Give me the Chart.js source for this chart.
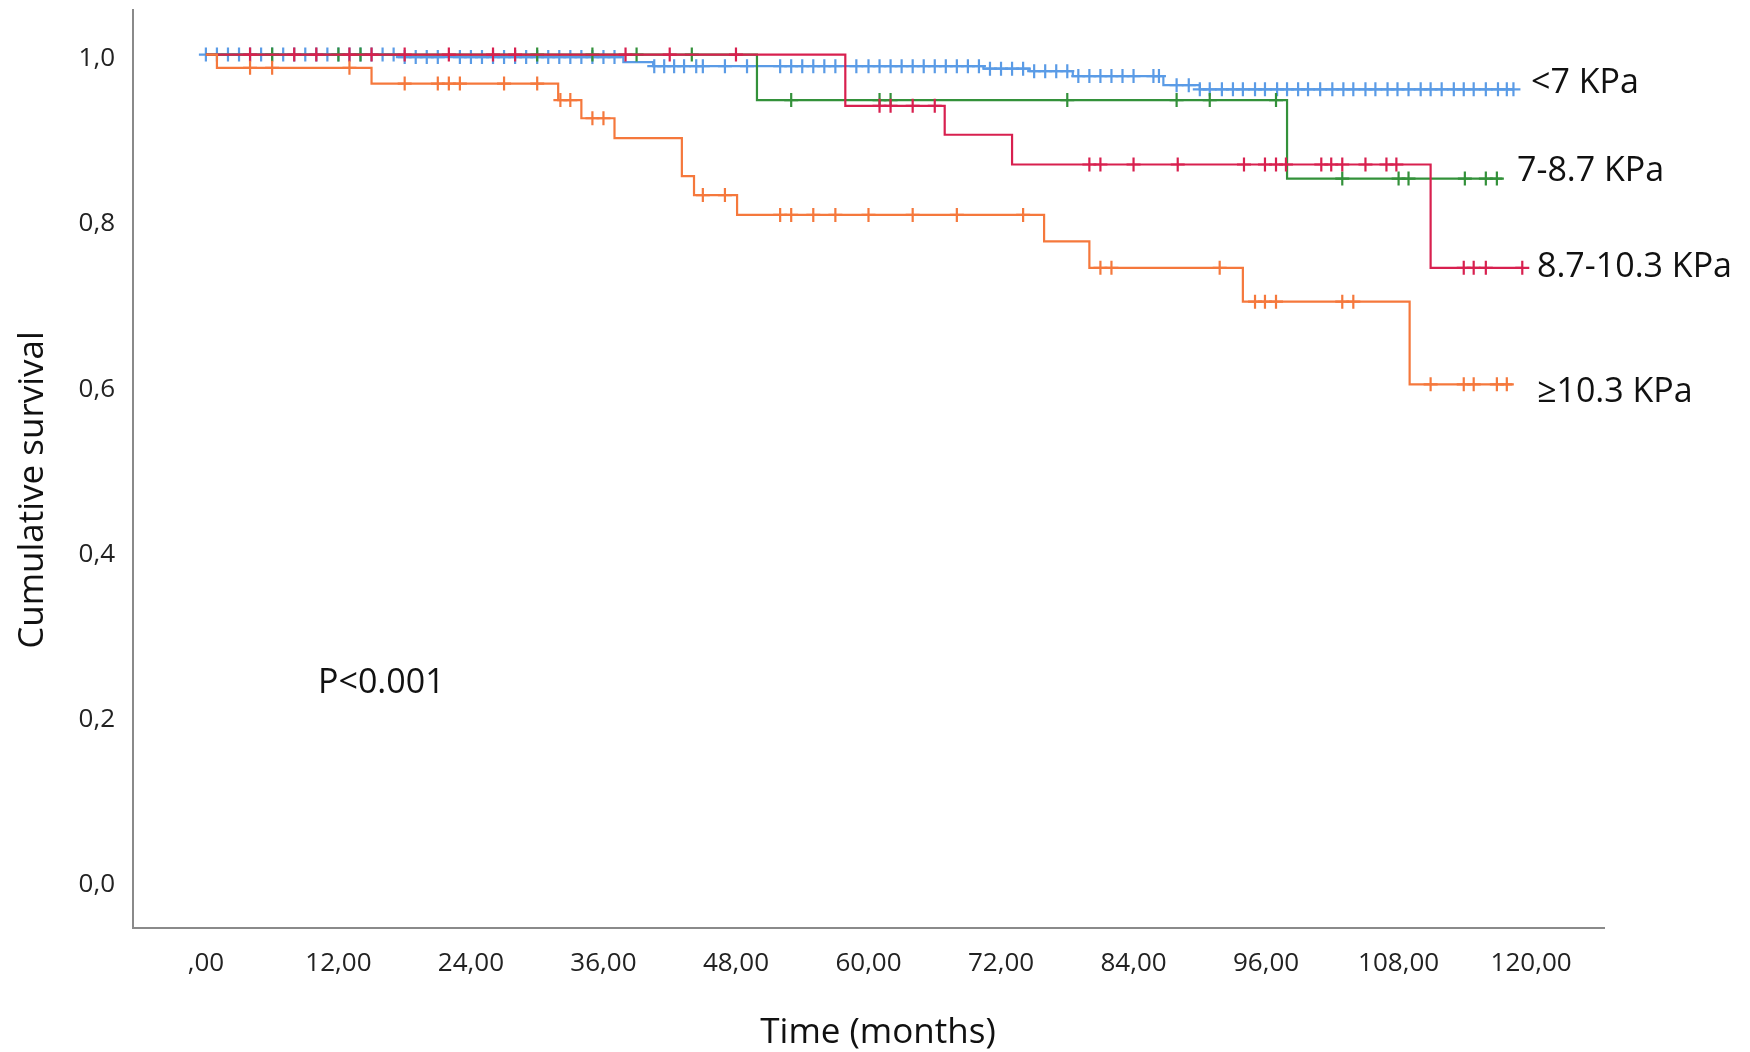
<!DOCTYPE html>
<html>
<head>
<meta charset="utf-8">
<script src="https://cdn.jsdelivr.net/npm/chart.js@4.4.1/dist/chart.umd.min.js"></script>
<style>
  html, body { margin: 0; padding: 0; background: #fff; }
  canvas { display: block; }
</style>
</head>
<body>
<canvas id="kmChart" width="1750" height="1052"></canvas>
<script>
// Kaplan-Meier curves by liver stiffness group
const groupNames = ['<7 KPa', '7-8.7 KPa', '8.7-10.3 KPa', '\u226510.3 KPa'];

const xTickValues = [0, 12, 24, 36, 48, 60, 72, 84, 96, 108, 120];
const xTickLabels = [',00', '12,00', '24,00', '36,00', '48,00', '60,00', '72,00', '84,00', '96,00', '108,00', '120,00'];
const yTickValues = [0, 0.2, 0.4, 0.6, 0.8, 1.0];
const yTickLabels = ['0,0', '0,2', '0,4', '0,6', '0,8', '1,0'];

// <7 KPa
const blueStepTimes = [0, 17.3, 37.8, 40.5, 70.4, 74.6, 78.5, 86.7, 90.0];
const blueStepValues = [1.0, 0.997, 0.991, 0.986, 0.983, 0.980, 0.974, 0.963, 0.958];
const blueEnd = 118.4;
const blueCensored = [0, 1, 2, 3, 4, 5, 6, 7, 8, 9, 10, 11, 12, 13, 14, 15, 16, 17, 18, 19, 20, 21, 23, 24, 25, 26,
  27, 28, 29, 30, 31, 32, 33, 34, 35, 36, 37, 40.6, 41.5, 42.4, 43.3, 44.4, 45, 47, 49, 52, 53, 54, 55, 56, 57,
  58.9, 60, 61, 62, 63, 64, 65, 66, 67, 68, 69, 70, 71, 72, 73, 74, 75, 76, 77, 78, 79, 80, 81, 82, 83, 84, 85.8,
  86.3, 87.9, 89, 90, 90.9, 92, 93, 93.9, 95, 95.9, 97, 97.9, 98.9, 99.8, 100.9, 102, 103, 103.9, 105, 105.9, 107,
  107.9, 108.9, 110, 110.9, 111.9, 113, 113.9, 114.8, 115.9, 117, 117.8, 118.4];

// 7-8.7 KPa
const greenStepTimes = [0, 49.9, 97.9];
const greenStepValues = [1.0, 0.945, 0.850];
const greenEnd = 117.4;
const greenCensored = [6, 12, 14, 30, 35, 39, 44, 53, 61, 62, 78, 87.9, 90.9, 96.9, 102.9, 108, 108.9, 114, 115.9, 116.9];

// 8.7-10.3 KPa
const redStepTimes = [0, 57.9, 66.9, 73.0, 110.9];
const redStepValues = [1.0, 0.938, 0.903, 0.867, 0.742];
const redEnd = 119.2;
const redCensored = [4, 8, 10, 13, 15, 18, 22, 26, 28, 38, 42, 48, 61, 62, 64, 66, 80, 81, 84, 88, 94, 95.9, 96.9,
  97.8, 101, 101.9, 102.9, 105, 106.9, 107.8, 113.9, 114.8, 115.9, 119.2];

// >=10.3 KPa
const orangeStepTimes = [0, 1.0, 15.0, 31.9, 34.0, 37.0, 43.1, 44.2, 48.1, 75.9, 80.0, 93.9, 109.0];
const orangeStepValues = [1.0, 0.984, 0.965, 0.945, 0.923, 0.899, 0.853, 0.830, 0.806, 0.774, 0.742, 0.701, 0.601];
const orangeEnd = 118.3;
const orangeCensored = [4, 6, 13, 18, 21, 22, 23, 27, 30, 32.1, 33, 35, 36, 45, 47, 52, 53, 55, 57, 60, 64, 68, 74,
  81, 82, 91.8, 95, 95.9, 96.9, 102.9, 103.9, 110.9, 113.9, 114.8, 116.9, 117.8];

const FONT = "'Open Sans', 'DejaVu Sans', sans-serif";

function stepLine(times, values, end) {
  const pts = times.map((t, i) => ({ x: t, y: values[i] }));
  pts.push({ x: end, y: values[values.length - 1] });
  return pts;
}

function censorMarks(times, values, censored) {
  return censored.map(t => {
    let v = values[0];
    for (let i = 0; i < times.length; i++) {
      if (times[i] <= t) v = values[i];
    }
    return { x: t, y: v };
  });
}

const curves = [
  { times: blueStepTimes, values: blueStepValues, end: blueEnd, cens: blueCensored, color: '#5a9be6', order: 4 },
  { times: greenStepTimes, values: greenStepValues, end: greenEnd, cens: greenCensored, color: '#33913a', order: 3 },
  { times: redStepTimes, values: redStepValues, end: redEnd, cens: redCensored, color: '#d8204f', order: 2 },
  { times: orangeStepTimes, values: orangeStepValues, end: orangeEnd, cens: orangeCensored, color: '#f5783c', order: 1 }
];

const datasets = [];
curves.forEach((c, i) => {
  datasets.push({
    label: groupNames[i],
    data: stepLine(c.times, c.values, c.end),
    showLine: true,
    stepped: 'before',
    borderColor: c.color,
    borderWidth: 2.2,
    pointRadius: 0,
    fill: false,
    order: c.order
  });
  datasets.push({
    label: groupNames[i] + ' censored',
    data: censorMarks(c.times, c.values, c.cens),
    showLine: false,
    pointStyle: 'cross',
    pointRadius: 7,
    borderColor: c.color,
    borderWidth: 2.2,
    order: c.order
  });
});

// free text on the figure: axis titles, group names, p value
const textPlugin = {
  id: 'kmTexts',
  afterDraw(chart) {
    const ctx = chart.ctx;
    ctx.save();
    ctx.fillStyle = '#111';
    ctx.textBaseline = 'middle';

    ctx.font = '35px ' + FONT;
    ctx.textAlign = 'center';
    ctx.fillText('Time (months)', 878, 1033);

    ctx.save();
    ctx.translate(33, 490);
    ctx.rotate(-Math.PI / 2);
    ctx.fillText('Cumulative survival', 0, 0);
    ctx.restore();

    ctx.font = '34px ' + FONT;
    ctx.textAlign = 'left';
    ctx.fillText(groupNames[0], 1531, 83);
    ctx.fillText(groupNames[1], 1517, 171);
    ctx.fillText(groupNames[2], 1537, 267);
    ctx.fillText(groupNames[3], 1537, 392);
    ctx.fillText('P<0.001', 318, 683);
    ctx.restore();
  }
};

new Chart(document.getElementById('kmChart'), {
  type: 'scatter',
  data: { datasets: datasets },
  plugins: [textPlugin],
  options: {
    responsive: false,
    animation: false,
    devicePixelRatio: 1,
    layout: { padding: { top: 10, right: 146, left: 0, bottom: 0 } },
    plugins: {
      legend: { display: false },
      tooltip: { enabled: false }
    },
    scales: {
      x: {
        type: 'linear',
        min: -6.6,
        max: 126.6,
        afterFit: s => {
          s.height = 124;
          s.paddingLeft = 0;
          s.paddingRight = 0;
        },
        afterBuildTicks: s => { s.ticks = xTickValues.map(v => ({ value: v })); },
        ticks: {
          callback: (v, i) => xTickLabels[i],
          font: { family: FONT, size: 26 },
          color: '#222',
          padding: 12,
          maxRotation: 0,
          autoSkip: false
        },
        grid: { display: false },
        border: { display: true, color: '#8a8a8a', width: 2 }
      },
      y: {
        type: 'linear',
        min: -0.057,
        max: 1.054,
        afterFit: s => {
          s.width = 133;
          s.paddingTop = 0;
          s.paddingBottom = 0;
        },
        afterBuildTicks: s => { s.ticks = yTickValues.map(v => ({ value: v })); },
        ticks: {
          callback: (v, i) => yTickLabels[i],
          font: { family: FONT, size: 26 },
          color: '#222',
          padding: 10,
          labelOffset: 4,
          autoSkip: false
        },
        grid: { display: false },
        border: { display: true, color: '#8a8a8a', width: 2 }
      }
    }
  }
});
</script>
</body>
</html>
